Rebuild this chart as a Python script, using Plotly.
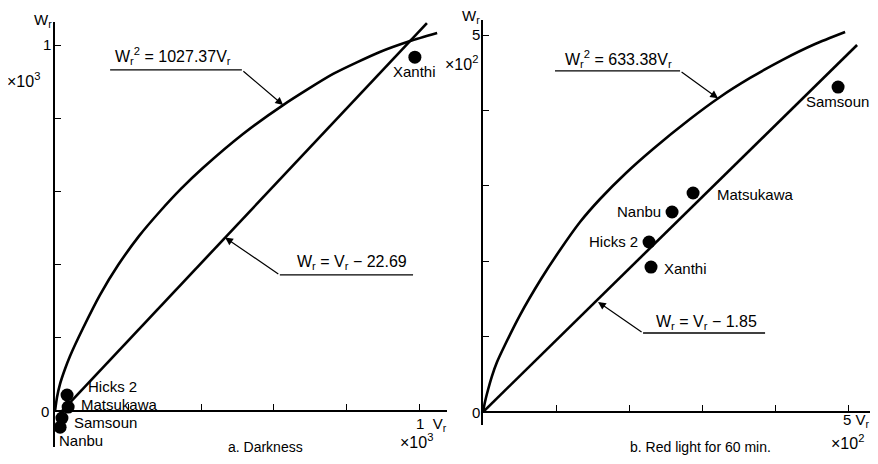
import plotly.graph_objects as go

# page has an 8px body margin; figure is sized so the page is 878x464
OFF = 8
W_PX, H_PX = 878 - 2 * OFF, 464 - 2 * OFF
FONT = "Liberation Sans, Arial, Helvetica, sans-serif"

# ---------------- Panel a: Darkness (units x10^3) ----------------
a_curve_v = [0, 0.0055, 0.0137, 0.0274, 0.041, 0.077, 0.123, 0.173, 0.230, 0.288, 0.345, 0.405,
             0.515, 0.625, 0.762, 0.890, 0.973, 1.047]
a_curve_w = [0, 0.038, 0.074, 0.115, 0.150, 0.227, 0.317, 0.399, 0.478, 0.546, 0.607, 0.664,
             0.757, 0.836, 0.921, 0.981, 1.011, 1.033]
a_line_v = [0.019, 1.019]
a_line_w = [0.0, 1.060]
a_names = ["Xanthi", "Hicks 2", "Matsukawa", "Samsoun", "Nanbu"]
a_v = [0.986, 0.033, 0.036, 0.019, 0.014]
a_w = [0.967, 0.044, 0.011, -0.019, -0.044]
a_ticks = [0.2, 0.4, 0.6, 0.8, 1.0]

# ---------------- Panel b: Red light 60 min (units x10^2) ----------------
b_curve_v = [0, 0.027, 0.068, 0.123, 0.192, 0.274, 0.507, 0.795, 1.055, 1.329, 1.603, 1.959,
             2.329, 2.836, 3.247, 3.658, 4.096, 4.548, 4.959]
b_curve_w = [0, 0.133, 0.292, 0.477, 0.663, 0.836, 1.286, 1.764, 2.149, 2.520, 2.825, 3.170,
             3.488, 3.886, 4.178, 4.430, 4.668, 4.881, 5.040]
b_line_v = [0.0, 5.123]
b_line_w = [0.0, 4.867]
b_names = ["Samsoun", "Matsukawa", "Nanbu", "Hicks 2", "Xanthi"]
b_v = [4.863, 2.877, 2.589, 2.274, 2.301]
b_w = [4.310, 2.905, 2.653, 2.255, 1.923]
b_ticks = [1, 2, 3, 4, 5]

# label placement (xanchor, xshift px, yshift px)
a_label_pos = {
    "Xanthi": ("center", 0, -14),
    "Hicks 2": ("left", 19, 9),
    "Matsukawa": ("left", 11, 3),
    "Samsoun": ("left", 10, -4),
    "Nanbu": ("left", -3, -13),
}
b_label_pos = {
    "Samsoun": ("center", -1, -14),
    "Matsukawa": ("left", 22, -2),
    "Nanbu": ("right", -9, 0),
    "Hicks 2": ("right", -9, 0),
    "Xanthi": ("left", 11, -1),
}


def px(x):
    return (x - OFF) / W_PX


def py(y):
    return 1 - (y - OFF) / H_PX


fig = go.Figure()

curve_style = dict(color="black", width=2.6)
fig.add_trace(go.Scatter(x=a_curve_v, y=a_curve_w, mode="lines",
                         line=dict(shape="spline", smoothing=0.6, **curve_style), xaxis="x", yaxis="y"))
fig.add_trace(go.Scatter(x=a_line_v, y=a_line_w, mode="lines", line=curve_style, xaxis="x", yaxis="y"))
fig.add_trace(go.Scatter(x=a_v, y=a_w, mode="markers", marker=dict(color="black", size=13),
                         xaxis="x", yaxis="y", text=a_names))

fig.add_trace(go.Scatter(x=b_curve_v, y=b_curve_w, mode="lines",
                         line=dict(shape="spline", smoothing=0.6, **curve_style), xaxis="x2", yaxis="y2"))
fig.add_trace(go.Scatter(x=b_line_v, y=b_line_w, mode="lines", line=curve_style, xaxis="x2", yaxis="y2"))
fig.add_trace(go.Scatter(x=b_v, y=b_w, mode="markers", marker=dict(color="black", size=13),
                         xaxis="x2", yaxis="y2", text=b_names))

ax_common = dict(showline=True, linecolor="black", linewidth=2, ticks="inside", ticklen=6,
                 tickwidth=1.2, tickcolor="black", showticklabels=False, showgrid=False,
                 zeroline=False, fixedrange=True)

annotations = []
font = dict(family=FONT, size=15, color="black")

# point labels
for name, v, w in zip(a_names, a_v, a_w):
    xa, xs, ys = a_label_pos[name]
    annotations.append(dict(x=v, y=w, xref="x", yref="y", text=name, showarrow=False,
                            xanchor=xa, yanchor="middle", xshift=xs, yshift=ys, font=font))
for name, v, w in zip(b_names, b_v, b_w):
    xa, xs, ys = b_label_pos[name]
    annotations.append(dict(x=v, y=w, xref="x2", yref="y2", text=name, showarrow=False,
                            xanchor=xa, yanchor="middle", xshift=xs, yshift=ys, font=font))

# leader arrows (tip, tail) and underline extents
leaders = [
    ("x", "y", (0.625, 0.836), (0.512, 0.932), 0.151),
    ("x", "y", (0.466, 0.474), (0.616, 0.372), 0.981),
    ("x2", "y2", (3.219, 4.16), (2.699, 4.523), 0.986),
    ("x2", "y2", (1.575, 1.46), (2.192, 1.048), 3.863),
]
shapes = []
for xr, yr, tip, tail, uend in leaders:
    annotations.append(dict(x=tip[0], y=tip[1], xref=xr, yref=yr, ax=tail[0], ay=tail[1],
                            axref=xr, ayref=yr, text="", showarrow=True, arrowhead=2,
                            arrowsize=1.3, arrowwidth=1.2, arrowcolor="black", standoff=0))
    shapes.append(dict(type="line", xref=xr, yref=yr, x0=tail[0], x1=uend, y0=tail[1], y1=tail[1],
                       line=dict(color="black", width=1.3)))

# free texts (pixel positions in the 878x464 page)
texts = [
    ("W<sub>r</sub><sup>2</sup> = 1027.37V<sub>r</sub>", 173, 56, "center", 16),
    ("W<sub>r</sub> = V<sub>r</sub> − 22.69", 352, 262, "center", 16),
    ("W<sub>r</sub><sup>2</sup> = 633.38V<sub>r</sub>", 618, 59, "center", 16),
    ("W<sub>r</sub> = V<sub>r</sub> − 1.85", 706, 322, "center", 16),
    ("W<sub>r</sub>", 43, 21, "center", 15),
    ("1", 47, 45, "center", 15),
    ("0", 45, 411, "center", 15),
    ("×10<sup>3</sup>", 23, 80, "center", 16),
    ("1  V<sub>r</sub>", 414, 424, "left", 15),
    ("×10<sup>3</sup>", 416, 441, "center", 16),
    ("a. Darkness", 265, 447, "center", 14),
    ("W<sub>r</sub>", 471, 17, "center", 15),
    ("5", 476, 35, "center", 15),
    ("0", 476, 412, "center", 15),
    ("×10<sup>2</sup>", 462, 63, "center", 16),
    ("5 V<sub>r</sub>", 841, 420, "left", 15),
    ("×10<sup>2</sup>", 847, 442, "center", 16),
    ("b. Red light for 60 min.", 700, 447, "center", 14),
]
for t, x, y, xa, s in texts:
    annotations.append(dict(x=px(x), y=py(y), xref="paper", yref="paper", text=t, showarrow=False,
                            xanchor=xa, yanchor="middle", font=dict(family=FONT, size=s, color="black")))

fig.update_layout(
    width=W_PX, height=H_PX, autosize=False,
    margin=dict(l=0, r=0, t=0, b=0),
    paper_bgcolor="white", plot_bgcolor="white",
    showlegend=False,
    xaxis=dict(domain=[px(55), px(447)], range=[0, 1.074], anchor="free", position=py(411),
               tickvals=a_ticks, **ax_common),
    yaxis=dict(domain=[py(447), py(22)], range=[-0.098, 1.063], anchor="x",
               tickvals=a_ticks, **ax_common),
    xaxis2=dict(domain=[px(483), px(870)], range=[0, 5.30], anchor="free", position=py(412),
                tickvals=b_ticks, **ax_common),
    yaxis2=dict(domain=[py(425), py(20)], range=[-0.172, 5.199], anchor="x2",
                tickvals=b_ticks, **ax_common),
    annotations=annotations,
    shapes=shapes,
)

fig.write_html("out.html")
